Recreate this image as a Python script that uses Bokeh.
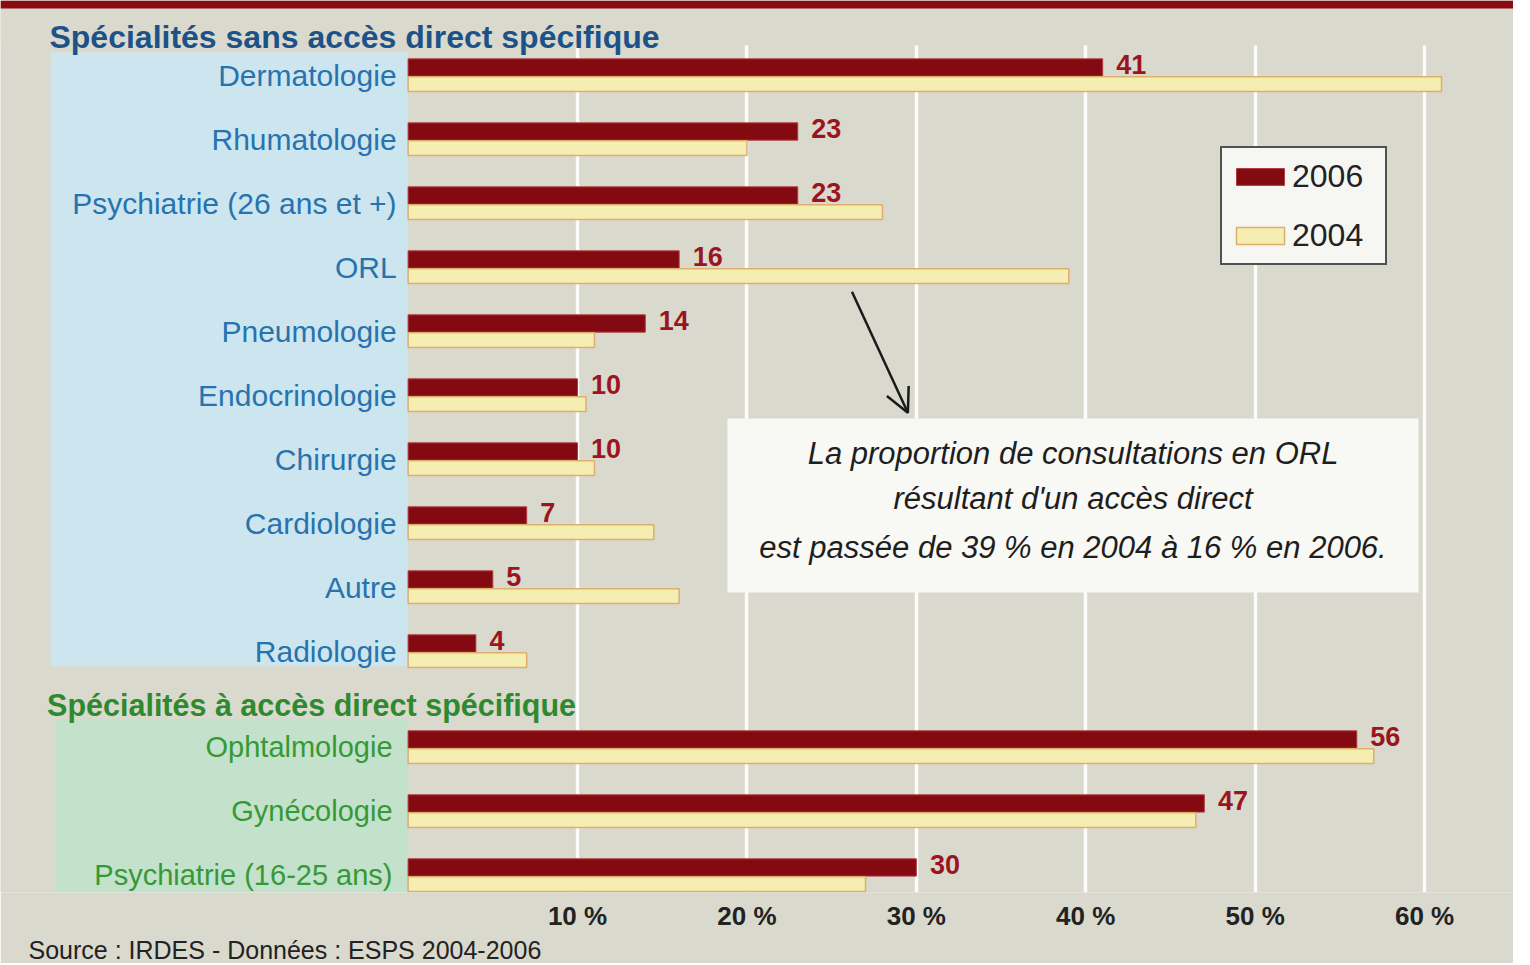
from bokeh.plotting import figure
from bokeh.models import (Range1d, FixedTicker, Legend, LegendItem, Arrow, OpenHead,
                          ColumnDataSource, Title)
from bokeh.transform import dodge
from bokeh.core.properties import value
from bokeh.embed import file_html
from bokeh.resources import INLINE

# ---------------- data ----------------
group_sans_title = "Spécialités sans accès direct spécifique"
categories_sans = ["Dermatologie", "Rhumatologie", "Psychiatrie (26 ans et +)", "ORL",
                   "Pneumologie", "Endocrinologie", "Chirurgie", "Cardiologie", "Autre",
                   "Radiologie"]
values_2006_sans = [41, 23, 23, 16, 14, 10, 10, 7, 5, 4]
values_2004_sans = [61, 20, 28, 39, 11, 10.5, 11, 14.5, 16, 7]

group_avec_title = "Spécialités à accès direct spécifique"
categories_avec = ["Ophtalmologie", "Gynécologie", "Psychiatrie (16-25 ans)"]
values_2006_avec = [56, 47, 30]
values_2004_avec = [57, 46.5, 27]

series_names = ["2006", "2004"]
tick_values = [10, 20, 30, 40, 50, 60]
tick_labels = ["10 %", "20 %", "30 %", "40 %", "50 %", "60 %"]

note_lines = ["La proportion de consultations en ORL",
              "résultant d'un accès direct",
              "est passée de 39 % en 2004 à 16 % en 2006."]
source_text = "Source : IRDES - Données : ESPS 2004-2006"

# ---------------- layout ----------------
BG = "#dad9ce"
RED = "#830a11"
YELLOW = "#f4eeb2"
SANS = "Liberation Sans"

pos_sans = list(range(len(categories_sans)))
pos_avec = [len(categories_sans) + 0.5 + i for i in range(len(categories_avec))]

src_sans = ColumnDataSource(dict(
    cat=categories_sans, pos=pos_sans, v2006=values_2006_sans, v2004=values_2004_sans,
    lab=[str(v) for v in values_2006_sans]))
src_avec = ColumnDataSource(dict(
    cat=categories_avec, pos=pos_avec, v2006=values_2006_avec, v2004=values_2004_avec,
    lab=[str(v) for v in values_2006_avec]))

x0, x1 = -24.06, 65.25
y_top, y_bot = -1.172, 12.766

p = figure(frame_width=1513, frame_height=892, x_range=Range1d(x0, x1),
           y_range=Range1d(y_bot, y_top),
           y_axis_location=None, toolbar_location=None, output_backend="svg",
           min_border_left=0, min_border_right=0, min_border_top=0, min_border_bottom=0,
           background_fill_color=BG, border_fill_color=BG, outline_line_color=None)

# grid
p.xgrid.ticker = FixedTicker(ticks=tick_values)
p.xgrid.grid_line_color = "white"
p.xgrid.grid_line_width = 3.5
p.xgrid.grid_line_alpha = 0.9
p.ygrid.visible = False

# x axis
p.xaxis.ticker = FixedTicker(ticks=tick_values)
p.xaxis.major_label_overrides = {t: l for t, l in zip(tick_values, tick_labels)}
p.xaxis.axis_line_color = None
p.xaxis.major_tick_line_color = None
p.xaxis.minor_tick_line_color = None
p.xaxis.major_label_standoff = 2
p.xaxis.major_label_text_font = SANS
p.xaxis.major_label_text_font_style = "bold"
p.xaxis.major_label_text_font_size = "26px"
p.xaxis.major_label_text_color = "#222222"

# top band hiding grid lines behind the heading, and red top rule
p.quad(left=x0, right=x1, top=y_top, bottom=-0.47, fill_color=BG, line_color=None)
p.quad(left=x0, right=x1, top=y_top, bottom=-1.047, fill_color="#8a0c12", line_color=None)

# coloured panels behind category names
p.quad(left=-21.1, right=0, top=-0.36, bottom=9.23, fill_color="#cde5ef", line_color=None)
p.quad(left=-20.8, right=0, top=10.05, bottom=y_bot, fill_color="#c4e1cc", line_color=None)

# group headings
p.text(x=[-21.17], y=[-0.6], text=[group_sans_title], text_font=value(SANS),
       text_font_style="bold", text_font_size="32px", text_color="#1d5288",
       text_baseline="middle", text_align="left")
p.text(x=[-21.31], y=[9.83], text=[group_avec_title], text_font=value(SANS),
       text_font_style="bold", text_font_size="30.5px", text_color="#2e8a2e",
       text_baseline="middle", text_align="left")

# category names
p.text(x=-0.68, y="pos", text="cat", source=src_sans, text_font=value(SANS),
       text_font_size="30px", text_color="#2673ad", text_align="right",
       text_baseline="middle")
p.text(x=-0.92, y="pos", text="cat", source=src_avec, text_font=value(SANS),
       text_font_size="29px", text_color="#359a35", text_align="right",
       text_baseline="middle")

# bars
renderers = {}
for src in (src_sans, src_avec):
    r06 = p.hbar(y=dodge("pos", -0.125), left=0, right="v2006", height=0.27, source=src,
                 fill_color=RED, line_color="#b03a40", line_width=1)
    r04 = p.hbar(y=dodge("pos", 0.135), left=0, right="v2004", height=0.23, source=src,
                 fill_color=YELLOW, line_color="#dfae6a", line_width=1.5)
    renderers.setdefault("2006", r06)
    renderers.setdefault("2004", r04)

# value labels for 2006
for src in (src_sans, src_avec):
    p.text(x=dodge("v2006", 0.8), y=dodge("pos", -0.17), text="lab", source=src,
           text_font=value(SANS), text_font_style="bold", text_font_size="27px",
           text_color="#9a1520", text_baseline="middle", text_align="left")

# note box + arrow
p.quad(left=18.85, right=59.65, top=5.36, bottom=8.08, fill_color="#f8f8f5", line_color=None)
p.text(x=[39.25] * 3, y=[5.91, 6.61, 7.38], text=note_lines, text_font=value(SANS),
       text_font_style="italic", text_font_size="31px", text_color="#1e1e1e",
       text_align="center", text_baseline="middle")
p.add_layout(Arrow(end=OpenHead(size=24, line_width=2.5, line_color="#1a1a1a"),
                   x_start=26.2, y_start=3.38, x_end=29.5, y_end=5.27,
                   line_width=2.5, line_color="#1a1a1a"))

# legend (location measured from the frame's bottom-left corner)
legend = Legend(items=[LegendItem(label=n, renderers=[renderers[n]]) for n in series_names],
                location=(1220, 627), orientation="vertical",
                glyph_width=60, glyph_height=21, label_height=40,
                label_text_font=SANS, label_text_font_size="32px",
                label_text_color="#222222", label_text_baseline="middle",
                label_standoff=2, label_width=85, padding=8, spacing=19,
                border_line_color="#4a5452", border_line_width=2.5, border_line_alpha=1,
                background_fill_color="#f6f6f3", background_fill_alpha=1)
p.add_layout(legend, "center")

# source
p.add_layout(Title(text=source_text, align="left", offset=28, standoff=0,
                   text_font=SANS, text_font_size="25px", text_font_style="normal",
                   text_color="#222222"), "below")

open("out.html", "w").write(file_html(p, INLINE))
